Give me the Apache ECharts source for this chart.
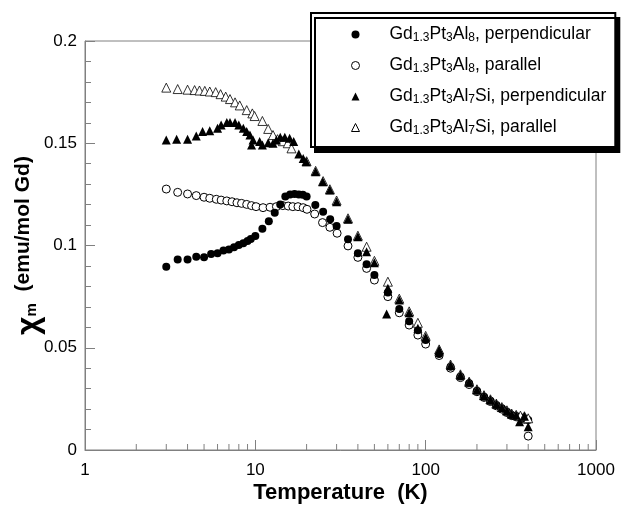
<!DOCTYPE html>
<html>
<head>
<meta charset="utf-8">
<script src="https://cdn.jsdelivr.net/npm/echarts@6/dist/echarts.min.js"></script>
<style>
html,body{margin:0;padding:0;background:#fff;}
#chart{width:621px;height:513px;}
</style>
</head>
<body>
<div id="chart"></div>
<script>
// ---- data (temperature in K, susceptibility in emu/mol Gd) ----
const perpAl8T = [3,3.5,4,4.5,5,5.5,6,6.5,7,7.5,8,8.5,9,9.4,10,11,12,13,14,15,16,17,18,19,20,22.5,25,27.5,30,35,40,45,50,60,70,80,90,100,120,140,160,180,200,220,240,260,280,300,320,340,360,380,400];
const perpAl8 = [0.0896,0.0932,0.0932,0.0945,0.0942,0.0958,0.0962,0.0975,0.0981,0.0991,0.1002,0.1011,0.1022,0.1032,0.1046,0.1082,0.1118,0.1160,0.1201,0.1240,0.1250,0.1252,0.1250,0.1248,0.1240,0.1198,0.1165,0.1128,0.1095,0.1030,0.0962,0.0908,0.0856,0.0770,0.0689,0.0630,0.0585,0.0538,0.0470,0.0407,0.0360,0.0326,0.0290,0.0261,0.0241,0.0220,0.0204,0.0187,0.0171,0.0166,0.0160,0.0155,0.0147];

const parAl8T = [3,3.5,4,4.5,5,5.4,5.9,6.3,6.8,7.3,7.8,8.3,8.9,9.5,10.1,11.1,12.2,13.3,14.5,15.6,16.6,17.8,19.1,20.1,22.3,24.8,27.4,30.2,35,40,45,50,60,70,80,90,100,120,140,160,180,200,220,240,260,280,300,320,340,360,380,400];
const parAl8 = [0.1276,0.1260,0.1252,0.1244,0.1236,0.1231,0.1226,0.1222,0.1218,0.1214,0.1209,0.1206,0.1201,0.1195,0.1190,0.1185,0.1187,0.1190,0.1195,0.1193,0.1190,0.1190,0.1185,0.1177,0.1154,0.1112,0.1089,0.1060,0.0998,0.0942,0.0888,0.0831,0.0750,0.0671,0.0611,0.0562,0.0518,0.0462,0.0400,0.0354,0.0320,0.0285,0.0257,0.0237,0.0216,0.0200,0.0183,0.0168,0.0162,0.0157,0.0150,0.0068];

const perpSiT = [3,3.45,4,4.5,4.9,5.4,6,6.3,6.8,7.1,7.6,8,8.5,8.9,9.3,9.7,9.5,10.6,11,11.9,12.7,13.3,14,14.9,15.9,16.8,18,19.1,19.9,22.6,24.9,27.4,30,35,40,45,50,59,60,70,80,90,100,120,140,160,180,200,220,240,260,280,300,320,340,356,380,400];
const perpSi = [0.1516,0.1519,0.1519,0.1535,0.1557,0.1561,0.1573,0.1589,0.1602,0.1602,0.1602,0.1589,0.1573,0.1557,0.1540,0.1516,0.1491,0.1508,0.1491,0.1503,0.1500,0.1516,0.1529,0.1529,0.1524,0.1508,0.1447,0.1426,0.1410,0.1361,0.1312,0.1271,0.1214,0.1128,0.1043,0.0970,0.0916,0.0665,0.0791,0.0733,0.0671,0.0595,0.0551,0.0489,0.0415,0.0367,0.0332,0.0295,0.0266,0.0246,0.0225,0.0208,0.0192,0.0176,0.0170,0.0138,0.0165,0.0114];

const parSiT = [3,3.5,4,4.4,4.7,5.05,5.4,5.85,6.25,6.7,7.1,7.6,8.1,8.9,9.6,9.9,11,11.9,12.7,13.5,14.5,15.5,16.3,20,22.6,25,27.4,30,35,40,45,50,60,70,80,90,100,120,140,160,180,200,220,240,260,280,300,320,340,360,380,400];
const parSi = [0.1772,0.1765,0.1762,0.1760,0.1758,0.1756,0.1753,0.1750,0.1740,0.1728,0.1716,0.1700,0.1685,0.1662,0.1646,0.1633,0.1609,0.1570,0.1540,0.1520,0.1510,0.1500,0.1475,0.1412,0.1365,0.1315,0.1275,0.1220,0.1133,0.1048,0.0994,0.0925,0.0823,0.0740,0.0678,0.0622,0.0558,0.0492,0.0418,0.0370,0.0334,0.0297,0.0268,0.0248,0.0227,0.0210,0.0194,0.0178,0.0172,0.0168,0.0165,0.0155];

const seriesNames = [
  'Gd1.3Pt3Al8, perpendicular',
  'Gd1.3Pt3Al8, parallel',
  'Gd1.3Pt3Al7Si, perpendicular',
  'Gd1.3Pt3Al7Si, parallel'
];
const legendRich = [
  '{sp| }{n|Gd}{s|1.3}{n|Pt}{s|3}{n|Al}{s|8}{n|, perpendicular}',
  '{sp| }{n|Gd}{s|1.3}{n|Pt}{s|3}{n|Al}{s|8}{n|, parallel}',
  '{sp| }{n|Gd}{s|1.3}{n|Pt}{s|3}{n|Al}{s|7}{n|Si, perpendicular}',
  '{sp| }{n|Gd}{s|1.3}{n|Pt}{s|3}{n|Al}{s|7}{n|Si, parallel}'
];
const xTickLabels = {1: '1', 10: '10', 100: '100', 1000: '1000'};
const xMinorTicks = [2,3,4,5,6,7,8,9,20,30,40,50,60,70,80,90,200,300,400,500,600,700,800,900];

const FONT = "'Liberation Sans', Arial, sans-serif";
const AXIS_GRAY = '#808080';

function zip(t, v) { return t.map((x, i) => [x, v[i]]); }

const chart = echarts.init(document.getElementById('chart'), null, {renderer: 'canvas'});

const option = {
  animation: false,
  backgroundColor: '#fff',
  grid: {
    left: 85, right: 25, top: 41, bottom: 63,
    outerBoundsMode: 'none', containLabel: false,
    show: true, borderColor: AXIS_GRAY, borderWidth: 1
  },
  legend: {
    data: seriesNames,
    orient: 'vertical',
    left: 311, top: 13,
    padding: [10, 9, 10, 40],
    itemWidth: 8, itemHeight: 8,
    itemGap: 10,
    itemStyle: {borderWidth: 1},
    backgroundColor: '#fff',
    borderColor: '#000', borderWidth: 2,
    shadowColor: '#000', shadowBlur: 0, shadowOffsetX: 4, shadowOffsetY: 5,
    formatter: function (name) { return legendRich[seriesNames.indexOf(name)]; },
    textStyle: {
      fontFamily: FONT, color: '#000',
      rich: {
        sp: {width: 25, fontSize: 17.5, lineHeight: 19, verticalAlign: 'top'},
        n: {fontSize: 17.5, fontFamily: FONT, color: '#000', lineHeight: 19, verticalAlign: 'top'},
        s: {fontSize: 12, fontFamily: FONT, color: '#000', lineHeight: 12, padding: [9, 0, 0, 0], verticalAlign: 'bottom'}
      }
    }
  },
  xAxis: {
    type: 'log', logBase: 10, min: 1, max: 1000,
    name: 'Temperature  (K)',
    nameLocation: 'middle', nameGap: 32,
    nameMoveOverlap: false,
    nameTextStyle: {fontFamily: FONT, fontSize: 22, fontWeight: 'bold', color: '#000'},
    axisLine: {lineStyle: {color: AXIS_GRAY}},
    axisTick: {inside: true, length: 10, lineStyle: {color: AXIS_GRAY}},
    axisLabel: {
      fontFamily: FONT, fontSize: 17, color: '#000', margin: 12,
      formatter: function (v) { return xTickLabels[Math.round(v)] || String(v); }
    },
    splitLine: {show: false},
    minorTick: {show: false}
  },
  yAxis: {
    type: 'value', min: 0, max: 0.2, interval: 0.05,
    name: '{chi|χ}{m|m}{t|  (emu/mol Gd)}',
    nameLocation: 'middle', nameGap: 46,
    nameMoveOverlap: false,
    nameTextStyle: {
      fontFamily: FONT, fontWeight: 'bold', color: '#000',
      rich: {
        chi: {fontSize: 32, fontWeight: 'bold', fontFamily: FONT, lineHeight: 15, verticalAlign: 'top'},
        m: {fontSize: 15, fontWeight: 'bold', fontFamily: FONT, lineHeight: 15, padding: [15, 0, 0, 0], verticalAlign: 'bottom'},
        t: {fontSize: 21, fontWeight: 'bold', fontFamily: FONT, lineHeight: 26, verticalAlign: 'top'}
      }
    },
    axisLine: {show: true, lineStyle: {color: AXIS_GRAY}},
    axisTick: {show: true, inside: true, length: 10, lineStyle: {color: AXIS_GRAY}},
    minorTick: {show: true, splitNumber: 5, length: 6, lineStyle: {color: AXIS_GRAY}},
    axisLabel: {fontFamily: FONT, fontSize: 17, color: '#000', margin: 8},
    splitLine: {show: false}
  },
  series: [
    {
      name: seriesNames[1], type: 'scatter', data: zip(parAl8T, parAl8),
      symbol: 'circle', symbolSize: 8,
      itemStyle: {color: '#fff', borderColor: '#000', borderWidth: 1, opacity: 1}
    },
    {
      name: seriesNames[0], type: 'scatter', data: zip(perpAl8T, perpAl8),
      symbol: 'circle', symbolSize: 8,
      itemStyle: {color: '#000', opacity: 1}
    },
    {
      name: seriesNames[3], type: 'scatter', data: zip(parSiT, parSi),
      symbol: 'triangle', symbolSize: 9,
      itemStyle: {color: '#fff', borderColor: '#000', borderWidth: 0.8, opacity: 1}
    },
    {
      name: seriesNames[2], type: 'scatter', data: zip(perpSiT, perpSi),
      symbol: 'triangle', symbolSize: 9,
      itemStyle: {color: '#000', opacity: 1}
    },
    {
      name: 'minorTicksX', type: 'custom', silent: true, z: 1,
      data: xMinorTicks.map(v => [v, 0]),
      renderItem: function (params, api) {
        const p = api.coord([api.value(0), 0]);
        return {
          type: 'line',
          shape: {x1: p[0], y1: p[1], x2: p[0], y2: p[1] - 6},
          style: {stroke: AXIS_GRAY, lineWidth: 1}
        };
      }
    }
  ]
};
chart.setOption(option);
</script>
</body>
</html>
